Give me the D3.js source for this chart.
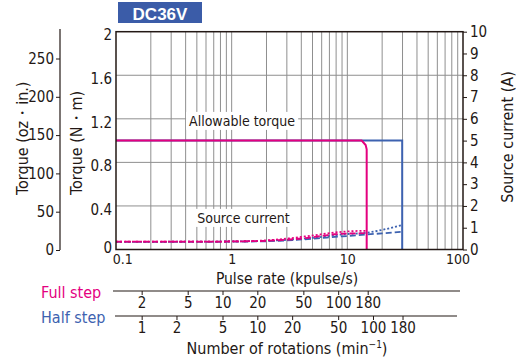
<!DOCTYPE html>
<html>
  <head>
    <meta charset="utf-8">
    <title>DC36V torque</title>
    <script src="https://d3js.org/d3.v7.min.js"></script>
    <style>
      body { margin: 0; background: #fff; }
      text { font-family: "Liberation Sans Narrow", "DejaVu Sans Condensed", "Liberation Sans", sans-serif; fill: #231815; }
    </style>
  </head>
  <body>
<script>

// pulse rate (kpulse/s) and torque (N·m)
var fullTorqueRate = [0.1, 13.3, 14.4, 14.7, 14.7];
var fullTorque     = [1.0, 1.0, 0.96, 0.92, 0];
var halfTorqueRate = [0.1, 29.8, 29.8];
var halfTorque     = [1.0, 1.0, 0];

// source current (A)
var fullCurrentRate = [0.1, 0.5, 1, 2, 3, 4.3, 6, 7.8, 10, 14.7];
var fullCurrentDot  = [0.36, 0.36, 0.37, 0.42, 0.5, 0.6, 0.7, 0.78, 0.83, 0.86];
var fullCurrentDash = [0.36, 0.36, 0.37, 0.40, 0.45, 0.52, 0.62, 0.70, 0.73, 0.75];
var halfCurrentRate = [0.1, 0.5, 1, 2, 3, 4.3, 6, 7.8, 10, 14.7, 20, 29.8];
var halfCurrentDot  = [0.35, 0.36, 0.37, 0.40, 0.44, 0.50, 0.58, 0.66, 0.71, 0.77, 0.9, 1.12];
var halfCurrentDash = [0.35, 0.35, 0.36, 0.38, 0.42, 0.47, 0.53, 0.58, 0.62, 0.69, 0.74, 0.81];

// tick labels
var rateTicks = [0.1, 1, 10, 100];
var torqueTicks = [0, 0.4, 0.8, 1.2, 1.6, 2];
var ozTicks = [0, 50, 100, 150, 200, 250];
var fullStepTicks = [2, 5, 10, 20, 50, 100, 180];
var halfStepTicks = [1, 2, 5, 10, 20, 50, 100, 180];

var pink = "#e4007f", blue = "#3d62b0";

var svg = d3.select("body").append("svg")
    .attr("width", 531)
    .attr("height", 358);

var pLeft = 116, pRight = 463, pTop = 31.7, pBottom = 249.5;

var x = d3.scaleLog().domain([0.1, 100]).range([pLeft, pRight]);
var yT = d3.scaleLinear().domain([0, 2]).range([pBottom, pTop]);
var yA = d3.scaleLinear().domain([0, 10]).range([pBottom, pTop]);
var yOz = d3.scaleLinear().domain([0, 250]).range([250, 58.5]);
// gear 1/25, 200 pulses/rev full step -> kpulse/s = rpm / 12 (full), rpm / 6 (half)
var xFull = d3.scaleLog().domain([0.1 * 12, 100 * 12]).range([pLeft, pRight]);
var xHalf = d3.scaleLog().domain([0.1 * 6, 100 * 6]).range([pLeft, pRight]);

// title box
svg.append("rect")
    .attr("x", 118).attr("y", 2).attr("width", 84).attr("height", 21)
    .attr("fill", "#3b5ca8");
svg.append("text")
    .attr("x", 160).attr("y", 19.5)
    .attr("text-anchor", "middle")
    .style("font-family", "'Liberation Sans', Arial, sans-serif")
    .style("font-weight", "bold")
    .style("font-size", "17px")
    .style("fill", "#fff")
    .text("DC36V");

// grid
var grid = svg.append("g").attr("stroke", "#8f8f8f").attr("stroke-width", 1);
grid.selectAll(".vg")
    .data(x.ticks().filter(function(d) { return d > 0.1 && d < 100; }))
    .enter().append("line")
    .attr("x1", function(d) { return x(d); })
    .attr("x2", function(d) { return x(d); })
    .attr("y1", pTop).attr("y2", pBottom);
grid.selectAll(".hg")
    .data(torqueTicks.slice(1, -1))
    .enter().append("line")
    .attr("x1", pLeft).attr("x2", pRight)
    .attr("y1", function(d) { return yT(d); })
    .attr("y2", function(d) { return yT(d); });

// text labels with white background in plot
function boxedLabel(cx, cy, str) {
  var g = svg.append("g");
  var t = g.append("text")
      .attr("x", cx).attr("y", cy)
      .attr("text-anchor", "middle")
      .attr("dy", "0.35em")
      .style("font-size", "14px")
      .text(str);
  var b = t.node().getBBox();
  g.insert("rect", "text")
      .attr("x", b.x - 3).attr("y", b.y - 1)
      .attr("width", b.width + 6).attr("height", b.height + 2)
      .attr("fill", "#fff");
}
boxedLabel(242, 121, "Allowable torque");
boxedLabel(243.5, 218, "Source current");

// curves
function drawLine(rates, vals, yScale, color, dash, width, curve) {
  var line = d3.line()
      .x(function(d) { return x(d[0]); })
      .y(function(d) { return yScale(d[1]); })
      .curve(curve || d3.curveLinear);
  svg.append("path")
      .datum(rates.map(function(r, i) { return [r, vals[i]]; }))
      .attr("d", line)
      .attr("fill", "none")
      .attr("stroke", color)
      .attr("stroke-width", width)
      .attr("stroke-dasharray", dash);
}

drawLine(halfCurrentRate, halfCurrentDash, yA, blue, "6,3", 1.8, d3.curveMonotoneX);
drawLine(halfCurrentRate, halfCurrentDot, yA, blue, "2,2", 1.8, d3.curveMonotoneX);
drawLine(fullCurrentRate, fullCurrentDash, yA, pink, "6,3", 1.8, d3.curveMonotoneX);
drawLine(fullCurrentRate, fullCurrentDot, yA, pink, "2,2", 1.8, d3.curveMonotoneX);
drawLine(halfTorqueRate, halfTorque, yT, blue, null, 2);
drawLine(fullTorqueRate, fullTorque, yT, pink, null, 2);

// frame
svg.append("rect")
    .attr("x", pLeft).attr("y", pTop)
    .attr("width", pRight - pLeft).attr("height", pBottom - pTop)
    .attr("fill", "none")
    .attr("stroke", "#231815")
    .attr("stroke-width", 1.5);

// left torque axis (N·m)
var axL = svg.append("g")
    .attr("transform", "translate(" + pLeft + ",0)")
    .call(d3.axisLeft(yT).tickValues(torqueTicks).tickSize(0).tickPadding(4)
      .tickFormat(function(d) { return d === 0 || d === 2 ? d3.format("d")(d) : d3.format(".1f")(d); }));
axL.select(".domain").remove();
axL.selectAll("text")
    .style("font-size", "15px")
    .attr("dy", function(d) { return d === 0 ? "0.2em" : "0.55em"; });

// oz·in axis
svg.append("line")
    .attr("x1", 60).attr("x2", 60).attr("y1", 29).attr("y2", 250)
    .attr("stroke", "#231815").attr("stroke-width", 1.2);
var axOz = svg.append("g")
    .attr("transform", "translate(60,0)")
    .call(d3.axisLeft(yOz).tickValues(ozTicks).tickSize(4).tickPadding(2));
axOz.select(".domain").remove();
axOz.selectAll("line").attr("stroke", "#231815");
axOz.selectAll("text").style("font-size", "15px");

// right current axis
var axR = svg.append("g")
    .attr("transform", "translate(" + pRight + ",0)")
    .call(d3.axisRight(yA).ticks(10).tickSize(4).tickPadding(3));
axR.select(".domain").remove();
axR.selectAll("line").attr("stroke", "#231815");
axR.selectAll("text").style("font-size", "15px");

// bottom pulse rate axis
var axB = svg.append("g")
    .attr("transform", "translate(0," + pBottom + ")")
    .call(d3.axisBottom(x).tickValues(rateTicks).tickSize(0).tickPadding(5)
      .tickFormat(function(d) { return d < 1 ? "0.1" : d3.format("d")(d); }));
axB.select(".domain").remove();
axB.selectAll("text")
    .style("font-size", "14px")
    .attr("dx", function(d) { return d === 0.1 ? "0.45em" : d === 100 ? "-0.4em" : "0"; });

// axis titles
svg.append("text")
    .attr("x", 287).attr("y", 284)
    .attr("text-anchor", "middle")
    .style("font-size", "15.5px")
    .text("Pulse rate (kpulse/s)");

function rotLabel(cx, cy, str, anchor) {
  svg.append("text")
      .attr("transform", "translate(" + cx + "," + cy + ") rotate(-90)")
      .attr("text-anchor", anchor)
      .attr("dy", "0.35em")
      .style("font-size", "16px")
      .text(str);
}
rotLabel(22.5, 195, "Torque (oz・in.)", "start");
rotLabel(76, 195, "Torque (N・m)", "start");
rotLabel(507, 137, "Source current (A)", "middle");

// rotation axes
svg.append("line")
    .attr("x1", 113).attr("x2", 460).attr("y1", 291).attr("y2", 291)
    .attr("stroke", "#231815").attr("stroke-width", 1.2);
svg.append("line")
    .attr("x1", 115).attr("x2", 457).attr("y1", 316).attr("y2", 316)
    .attr("stroke", "#231815").attr("stroke-width", 1.2);

var axF = svg.append("g")
    .attr("transform", "translate(0,291)")
    .call(d3.axisBottom(xFull).tickValues(fullStepTicks).tickSize(4).tickPadding(2)
      .tickFormat(d3.format("d")));
axF.select(".domain").remove();
axF.selectAll("line").attr("stroke", "#231815");
axF.selectAll("text").style("font-size", "15px");

var axH = svg.append("g")
    .attr("transform", "translate(0,316)")
    .call(d3.axisBottom(xHalf).tickValues(halfStepTicks).tickSize(4).tickPadding(2)
      .tickFormat(d3.format("d")));
axH.select(".domain").remove();
axH.selectAll("line").attr("stroke", "#231815");
axH.selectAll("text").style("font-size", "15px");

svg.append("text")
    .attr("x", 41).attr("y", 297.5)
    .style("font-size", "16px")
    .style("fill", pink)
    .text("Full step");
svg.append("text")
    .attr("x", 41).attr("y", 322.5)
    .style("font-size", "16px")
    .style("fill", blue)
    .text("Half step");

var rot = svg.append("text")
    .attr("x", 287).attr("y", 353.5)
    .attr("text-anchor", "middle")
    .style("font-size", "16px");
rot.append("tspan").text("Number of rotations (min");
rot.append("tspan").attr("dy", "-6").style("font-size", "10px").text("−1");
rot.append("tspan").attr("dy", "6").text(")");

</script>
  </body>
</html>
